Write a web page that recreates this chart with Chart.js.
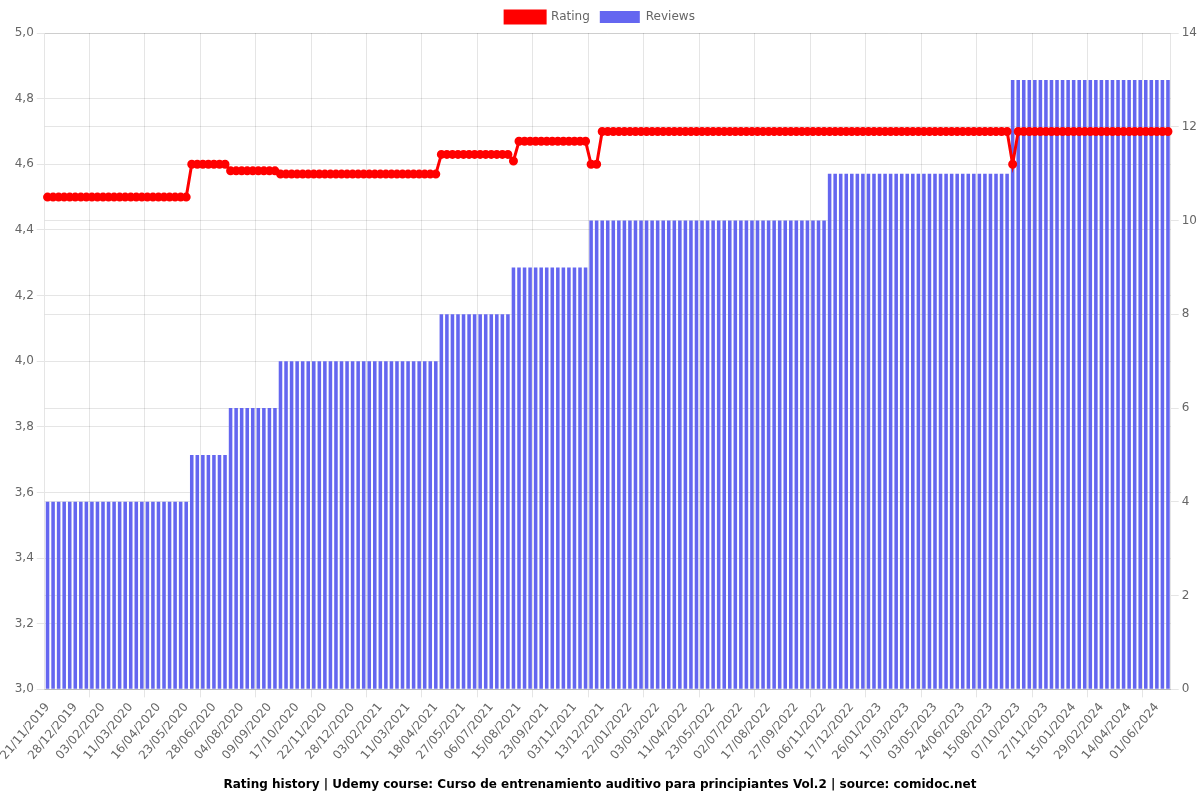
<!DOCTYPE html>
<html>
<head>
<meta charset="utf-8">
<title>Rating history</title>
<script src="https://cdn.jsdelivr.net/npm/chart.js@4"></script>
<style>
  html, body { margin: 0; padding: 0; background: #fff; }
  #wrap { width: 1200px; height: 800px; }
</style>
</head>
<body>
<div id="wrap"><canvas id="ratingChart"></canvas></div>
<script>
// visible tick dates, one every 5 points (points in between are unlabelled)
const tickDates = [
  "21/11/2019", "28/12/2019", "03/02/2020", "11/03/2020", "16/04/2020",
  "23/05/2020", "28/06/2020", "04/08/2020", "09/09/2020", "17/10/2020",
  "22/11/2020", "28/12/2020", "03/02/2021", "11/03/2021", "18/04/2021",
  "27/05/2021", "06/07/2021", "15/08/2021", "23/09/2021", "03/11/2021",
  "13/12/2021", "22/01/2022", "03/03/2022", "11/04/2022", "23/05/2022",
  "02/07/2022", "17/08/2022", "27/09/2022", "06/11/2022", "17/12/2022",
  "26/01/2023", "17/03/2023", "03/05/2023", "24/06/2023", "15/08/2023",
  "07/10/2023", "27/11/2023", "15/01/2024", "29/02/2024", "14/04/2024",
  "01/06/2024"
];

const ratings = [
  4.5, 4.5, 4.5, 4.5, 4.5, 4.5, 4.5, 4.5, 4.5, 4.5,
  4.5, 4.5, 4.5, 4.5, 4.5, 4.5, 4.5, 4.5, 4.5, 4.5,
  4.5, 4.5, 4.5, 4.5, 4.5, 4.5, 4.6, 4.6, 4.6, 4.6,
  4.6, 4.6, 4.6, 4.58, 4.58, 4.58, 4.58, 4.58, 4.58, 4.58,
  4.58, 4.58, 4.57, 4.57, 4.57, 4.57, 4.57, 4.57, 4.57, 4.57,
  4.57, 4.57, 4.57, 4.57, 4.57, 4.57, 4.57, 4.57, 4.57, 4.57,
  4.57, 4.57, 4.57, 4.57, 4.57, 4.57, 4.57, 4.57, 4.57, 4.57,
  4.57, 4.63, 4.63, 4.63, 4.63, 4.63, 4.63, 4.63, 4.63, 4.63,
  4.63, 4.63, 4.63, 4.63, 4.61, 4.67, 4.67, 4.67, 4.67, 4.67,
  4.67, 4.67, 4.67, 4.67, 4.67, 4.67, 4.67, 4.67, 4.6, 4.6,
  4.7, 4.7, 4.7, 4.7, 4.7, 4.7, 4.7, 4.7, 4.7, 4.7,
  4.7, 4.7, 4.7, 4.7, 4.7, 4.7, 4.7, 4.7, 4.7, 4.7,
  4.7, 4.7, 4.7, 4.7, 4.7, 4.7, 4.7, 4.7, 4.7, 4.7,
  4.7, 4.7, 4.7, 4.7, 4.7, 4.7, 4.7, 4.7, 4.7, 4.7,
  4.7, 4.7, 4.7, 4.7, 4.7, 4.7, 4.7, 4.7, 4.7, 4.7,
  4.7, 4.7, 4.7, 4.7, 4.7, 4.7, 4.7, 4.7, 4.7, 4.7,
  4.7, 4.7, 4.7, 4.7, 4.7, 4.7, 4.7, 4.7, 4.7, 4.7,
  4.7, 4.7, 4.7, 4.7, 4.6, 4.7, 4.7, 4.7, 4.7, 4.7,
  4.7, 4.7, 4.7, 4.7, 4.7, 4.7, 4.7, 4.7, 4.7, 4.7,
  4.7, 4.7, 4.7, 4.7, 4.7, 4.7, 4.7, 4.7, 4.7, 4.7,
  4.7, 4.7, 4.7
];

const reviews = [
  4, 4, 4, 4, 4, 4, 4, 4, 4, 4,
  4, 4, 4, 4, 4, 4, 4, 4, 4, 4,
  4, 4, 4, 4, 4, 4, 5, 5, 5, 5,
  5, 5, 5, 6, 6, 6, 6, 6, 6, 6,
  6, 6, 7, 7, 7, 7, 7, 7, 7, 7,
  7, 7, 7, 7, 7, 7, 7, 7, 7, 7,
  7, 7, 7, 7, 7, 7, 7, 7, 7, 7,
  7, 8, 8, 8, 8, 8, 8, 8, 8, 8,
  8, 8, 8, 8, 9, 9, 9, 9, 9, 9,
  9, 9, 9, 9, 9, 9, 9, 9, 10, 10,
  10, 10, 10, 10, 10, 10, 10, 10, 10, 10,
  10, 10, 10, 10, 10, 10, 10, 10, 10, 10,
  10, 10, 10, 10, 10, 10, 10, 10, 10, 10,
  10, 10, 10, 10, 10, 10, 10, 10, 10, 10,
  10, 11, 11, 11, 11, 11, 11, 11, 11, 11,
  11, 11, 11, 11, 11, 11, 11, 11, 11, 11,
  11, 11, 11, 11, 11, 11, 11, 11, 11, 11,
  11, 11, 11, 11, 13, 13, 13, 13, 13, 13,
  13, 13, 13, 13, 13, 13, 13, 13, 13, 13,
  13, 13, 13, 13, 13, 13, 13, 13, 13, 13,
  13, 13, 13
];

// one label per point: known date every 5th point, blanks in between
const labels = tickDates.flatMap((d) => [d, "", "", "", ""]).slice(0, ratings.length);

Chart.defaults.font.family = "'DejaVu Sans', sans-serif";
Chart.defaults.font.size = 12;
Chart.defaults.color = "#666";

new Chart(document.getElementById("ratingChart"), {
  type: "bar",
  data: {
    labels: labels,
    datasets: [
      {
        type: "line",
        label: "Rating",
        data: ratings,
        yAxisID: "y",
        borderColor: "#ff0000",
        backgroundColor: "#ff0000",
        borderWidth: 3,
        pointRadius: 3,
        pointBackgroundColor: "#ff0000",
        pointBorderColor: "#ff0000",
        tension: 0
      },
      {
        type: "bar",
        label: "Reviews",
        data: reviews,
        yAxisID: "y1",
        backgroundColor: "rgb(100, 102, 240)",
        borderColor: "rgb(100, 102, 240)",
        borderWidth: 0,
        categoryPercentage: 0.8,
        barPercentage: 0.8
      }
    ]
  },
  options: {
    responsive: true,
    maintainAspectRatio: false,
    animation: false,
    locale: "es-ES",
    layout: { padding: { top: 1 } },
    plugins: {
      legend: {
        position: "top",
        labels: { boxWidth: 40, boxHeight: 12 }
      },
      title: {
        display: true,
        position: "bottom",
        text: "Rating history | Udemy course: Curso de entrenamiento auditivo para principiantes Vol.2 | source: comidoc.net",
        color: "#000",
        font: { size: 12, weight: "bold" },
        padding: { top: 12, bottom: 8 }
      },
      tooltip: { enabled: false }
    },
    scales: {
      x: {
        ticks: {
          autoSkip: true,
          maxTicksLimit: 41,
          minRotation: 50,
          maxRotation: 50
        }
      },
      y: {
        position: "left",
        min: 3,
        max: 5,
        ticks: { stepSize: 0.2 }
      },
      y1: {
        position: "right",
        min: 0,
        max: 14,
        ticks: { stepSize: 2 }
      }
    }
  }
});
</script>
</body>
</html>
